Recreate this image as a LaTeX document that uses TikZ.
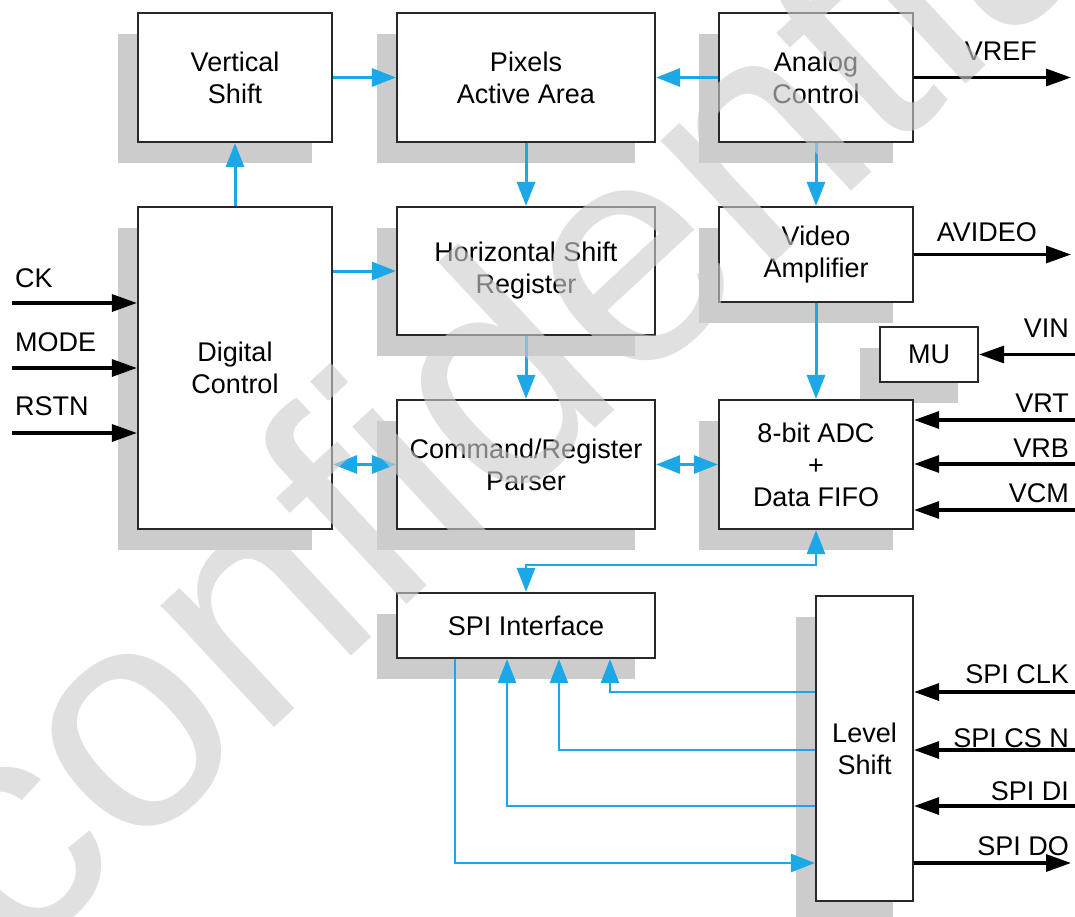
\documentclass[tikz,border=0pt]{standalone}
\usepackage{fontspec}
\setmainfont{Liberation Sans}
\usetikzlibrary{arrows.meta,shadows}
\definecolor{lblue}{RGB}{28,167,230}
\definecolor{shgray}{RGB}{204,204,204}
\definecolor{wmgray}{RGB}{205,205,205}
\definecolor{bord}{RGB}{40,40,40}
\tikzset{
  blk/.style={draw=bord, line width=2.2pt, fill=white, align=center, inner sep=0pt,
    font=\fontsize{27}{32}\selectfont,
    drop shadow={shadow xshift=-20pt, shadow yshift=-21pt, fill=shgray, opacity=1}},
  lab/.style={font=\fontsize{27}{32}\selectfont, inner sep=0pt},
  barrow/.style={line width=3.2pt, black, -{Triangle[length=25pt,width=17pt]}},
  carrow/.style={line width=3pt, lblue, -{Triangle[length=24pt,width=18pt]}},
  cdouble/.style={line width=3pt, lblue, {Triangle[length=24pt,width=18pt]}-{Triangle[length=24pt,width=18pt]}},
  wmark/.style={text=wmgray, text opacity=0.62, inner sep=0pt, font=\fontsize{315}{315}\selectfont}
}
\begin{document}
\begin{tikzpicture}[x=1pt,y=-1pt]
\useasboundingbox (0,0) rectangle (1075,917);
% blocks
\node[blk, minimum width=194pt, minimum height=129pt] (vs)  at (235,77.5)  {Vertical\\Shift};
\node[blk, minimum width=258pt, minimum height=129pt] (pix) at (526,77.5)  {Pixels\\Active Area};
\node[blk, minimum width=194pt, minimum height=129pt] (ana) at (816,77.5)  {Analog\\Control};
\node[blk, minimum width=194pt, minimum height=322pt] (dig) at (235,368)   {Digital\\Control};
\node[blk, minimum width=258pt, minimum height=128pt] (hsr) at (526,271)   {Horizontal Shift\\Register};
\node[blk, minimum width=194pt, minimum height=95pt]  (vid) at (816,254.5) {Video\\Amplifier};
\node[blk, minimum width=98pt,  minimum height=55pt]  (mu)  at (929,354.5) {MU};
\node[blk, minimum width=258pt, minimum height=129pt] (cmd) at (526,464.5) {Command/Register\\Parser};
\node[blk, minimum width=194pt, minimum height=129pt] (adc) at (816,464.5) {8-bit ADC\\+\\Data FIFO};
\node[blk, minimum width=258pt, minimum height=65pt]  (spi) at (526,625.5) {SPI Interface};
\node[blk, minimum width=97pt,  minimum height=305pt] (lvl) at (864.5,748.5) {Level\\Shift};
% free ends
\coordinate (ckin) at (12,303);
\coordinate (modein) at (12,368);
\coordinate (rstin) at (12,433);
\coordinate (vrefout) at (1071,77.5);
\coordinate (avout) at (1071,254.5);
\coordinate (vinin) at (1075,354.5);
\coordinate (vrtin) at (1075,420);
\coordinate (vrbin) at (1075,464);
\coordinate (vcmin) at (1075,510);
\coordinate (clkin) at (1075,692);
\coordinate (csin) at (1075,750);
\coordinate (diin) at (1075,806);
\coordinate (doout) at (1071,863);
% blue connectors
\draw[carrow] (vs.east) -- (pix.west);
\draw[carrow] (ana.west) -- (pix.east);
\draw[carrow] (dig.north) -- (vs.south);
\draw[carrow] (pix.south) -- (hsr.north);
\draw[carrow] (dig.east |- hsr.west) -- (hsr.west);
\draw[carrow] (ana.south) -- (vid.north);
\draw[carrow] (hsr.south) -- (cmd.north);
\draw[carrow] (vid.south) -- (adc.north);
\draw[cdouble] (dig.east |- cmd.west) -- (cmd.west);
\draw[cdouble] (cmd.east) -- (adc.west);
\draw[cdouble, line width=2.7pt] (adc.south) -- ++(0,35) -| (spi.north);
\draw[carrow, line width=2.5pt] (lvl.west |- clkin) -| ([xshift=84pt]spi.south);
\draw[carrow, line width=2.5pt] (lvl.west |- csin) -| ([xshift=33pt]spi.south);
\draw[carrow, line width=2.5pt] (lvl.west |- diin) -| ([xshift=-19pt]spi.south);
\draw[carrow, line width=2.5pt] ([xshift=-71pt]spi.south) |- (lvl.west |- doout);
% black connectors
\draw[barrow] (ckin) -- (dig.west |- ckin);
\draw[barrow] (modein) -- (dig.west |- modein);
\draw[barrow] (rstin) -- (dig.west |- rstin);
\draw[barrow] (ana.east) -- (vrefout);
\draw[barrow] (vid.east) -- (avout);
\draw[barrow] (vinin) -- (mu.east);
\draw[barrow] (vrtin) -- (adc.east |- vrtin);
\draw[barrow] (vrbin) -- (adc.east |- vrbin);
\draw[barrow] (vcmin) -- (adc.east |- vcmin);
\draw[barrow] (clkin) -- (lvl.east |- clkin);
\draw[barrow] (csin) -- (lvl.east |- csin);
\draw[barrow] (diin) -- (lvl.east |- diin);
\draw[barrow] (lvl.east |- doout) -- (doout);
% labels
\node[lab, anchor=base west] (lck) at (15,287) {CK};
\node[lab, anchor=base west] (lmode) at (15,351) {MODE};
\node[lab, anchor=base west] (lrst) at (15,415) {RSTN};
\node[lab, anchor=base east] (lvref) at (1037,61) {VREF};
\node[lab, anchor=base east] (lav) at (1037,242) {AVIDEO};
\node[lab, anchor=base east] (lvin) at (1069,337) {VIN};
\node[lab, anchor=base east] (lvrt) at (1069,412) {VRT};
\node[lab, anchor=base east] (lvrb) at (1069,457) {VRB};
\node[lab, anchor=base east] (lvcm) at (1069,502) {VCM};
\node[lab, anchor=base east] (lclk) at (1069,683) {SPI CLK};
\node[lab, anchor=base east] (lcs) at (1069,747) {SPI CS N};
\node[lab, anchor=base east] (ldi) at (1069,800) {SPI DI};
\node[lab, anchor=base east] (ldo) at (1069,855) {SPI DO};
% watermark
\begin{scope}
\clip (0,0) rectangle (1075,917);
\node[wmark, rotate=42.9, anchor=base west] (wm) at (14.2,968.8) {confidential};
\end{scope}
\end{tikzpicture}
\end{document}
